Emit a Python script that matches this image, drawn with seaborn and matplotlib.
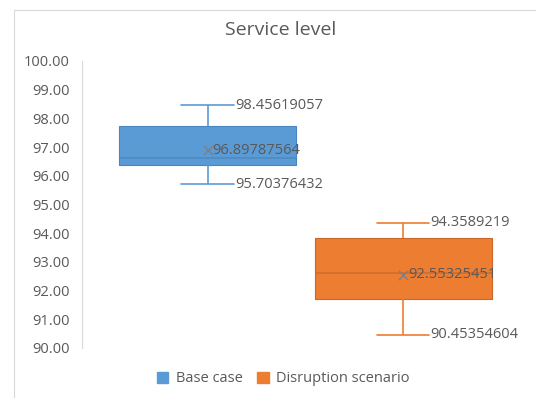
import matplotlib
matplotlib.use("Agg")
import matplotlib.pyplot as plt
from matplotlib.lines import Line2D
import seaborn as sns
import pandas as pd

# Five-number summaries per scenario (min, Q1, median, Q3, max) and means
scenarios = ["Base case", "Disruption scenario"]
mins = [95.70376432, 90.45354604]
q1s = [96.38, 91.70]
medians = [96.63, 92.60]
q3s = [97.73, 93.84]
maxs = [98.45619057, 94.3589219]
means = [96.89787564, 92.55325451]
colors = ["#5B9BD5", "#ED7D31"]
dark = ["#4A86BD", "#C9682A"]

rows = []
for name, a, b, c, d, e in zip(scenarios, mins, q1s, medians, q3s, maxs):
    for v in (a, b, c, d, e):
        rows.append({"scenario": name, "value": v})
df = pd.DataFrame(rows)

sns.set_theme(style="white")
plt.rcParams["font.family"] = ["Open Sans", "DejaVu Sans"]

fig = plt.figure(figsize=(5.36, 3.98), dpi=100)
ax = fig.add_axes([82 / 536, 1 - 348 / 398, (529 - 82) / 536, (348 - 61) / 398])

sns.boxplot(
    data=df, x="scenario", y="value", hue="scenario", order=scenarios,
    hue_order=scenarios, palette=colors, width=0.905, whis=(0, 100),
    dodge=False, legend=False, showfliers=False, linewidth=1.0, ax=ax,
    saturation=1,
)

# Style boxes, whiskers, caps and medians per scenario
for i, patch in enumerate(ax.patches[:2]):
    patch.set_facecolor(colors[i])
    patch.set_edgecolor(dark[i])
    patch.set_linewidth(0.8)
lines = ax.lines
per = len(lines) // 2
for i in range(2):
    for j, ln in enumerate(lines[i * per:(i + 1) * per]):
        ln.set_color(colors[i])
        ln.set_linewidth(1.2)
        xd = ln.get_xdata()
        if len(xd) == 2 and xd[0] != xd[1] and 2 <= j < 4:
            # caps: narrower than the box
            ln.set_xdata([i - 0.135, i + 0.135])
    # median line in a darker tone
    lines[i * per + 4].set_color(dark[i])
    lines[i * per + 4].set_alpha(0.8)

# Means shown as x markers
sns.scatterplot(x=scenarios, y=means, marker="x", color="#7f7f7f", s=45,
                linewidth=1.0, legend=False, ax=ax, zorder=5)

# Value labels: whisker ends beside the caps, mean beside its marker
for i in range(2):
    ax.text(i + 0.14, maxs[i], f"{maxs[i]}", va="center", ha="left",
            fontsize=10.5, color="#595959")
    ax.text(i + 0.14, mins[i], f"{mins[i]}", va="center", ha="left",
            fontsize=10.5, color="#595959")
    ax.text(i + 0.025, means[i], f"{means[i]}", va="center", ha="left",
            fontsize=10.5, color="#595959", zorder=6)

ax.set_xlim(-0.642, 1.644)
ax.set_ylim(90, 100)
ax.set_yticks([90 + k for k in range(11)])
ax.set_yticklabels([f"{90 + k:.2f}" for k in range(11)], fontsize=10.5,
                   color="#595959")
ax.set_xticks([])
ax.set_xlabel("")
ax.set_ylabel("")
for s in ("top", "right", "bottom"):
    ax.spines[s].set_visible(False)
ax.spines["left"].set_color("#d9d9d9")
ax.spines["left"].set_linewidth(0.8)
ax.tick_params(axis="y", length=0, pad=9)

fig.text(281 / 536, 1 - 30 / 398, "Service level", ha="center", va="center",
         fontsize=14, color="#595959")

handles = [plt.Rectangle((0, 0), 1, 1, facecolor=c, edgecolor=c) for c in colors]
fig.legend(handles, scenarios, loc="center", bbox_to_anchor=(283 / 536, 1 - 379 / 398),
           ncol=2, frameon=False, fontsize=10.5, handlelength=0.8, handleheight=0.8,
           columnspacing=1.0, handletextpad=0.5, labelcolor="#595959")

# Chart frame edges
fig.add_artist(Line2D([14 / 536, 1], [1 - 10 / 398, 1 - 10 / 398], color="#d9d9d9", lw=0.8))
fig.add_artist(Line2D([14 / 536, 14 / 536], [0, 1 - 10 / 398], color="#d9d9d9", lw=0.8))

fig.savefig("out.png", dpi=100)
